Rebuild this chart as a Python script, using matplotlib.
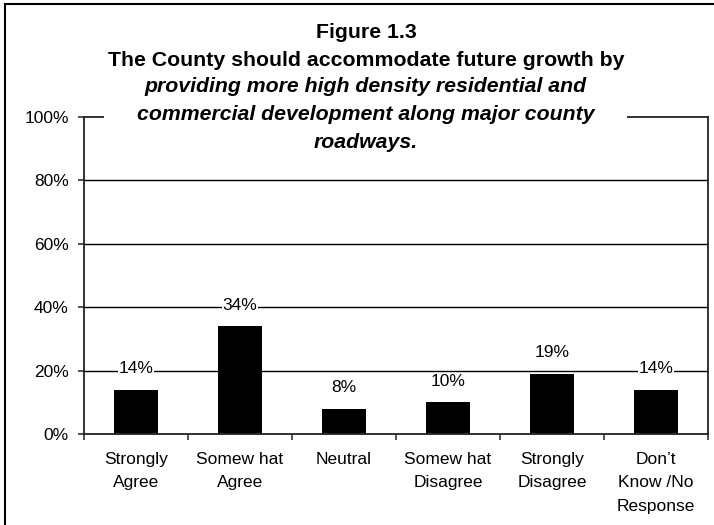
import numpy as np
import matplotlib.pyplot as plt
from matplotlib.patches import Rectangle
from matplotlib.lines import Line2D

plt.rcParams["font.family"] = ["Liberation Sans", "DejaVu Sans"]

# survey responses, share of respondents
categories = ["Strongly\nAgree", "Somew hat\nAgree", "Neutral",
              "Somew hat\nDisagree", "Strongly\nDisagree", "Don\u2019t\nKnow /No\nResponse"]
shares = [0.14, 0.34, 0.08, 0.10, 0.19, 0.14]
yticks = [0, 0.2, 0.4, 0.6, 0.8, 1.0]
ytick_labels = ["0%", "20%", "40%", "60%", "80%", "100%"]

title_lines = [
    ("Figure 1.3", "normal"),
    ("The County should accommodate future growth by", "normal"),
    ("providing more high density residential and", "italic"),
    ("commercial development along major county", "italic"),
    ("roadways.", "italic"),
]

W, H = 714, 525
fig = plt.figure(figsize=(W / 100, H / 100), dpi=100)
ax = fig.add_axes([84 / W, 1 - 434 / H, (708 - 84) / W, (434 - 117) / H])

x = np.arange(len(categories))
ax.bar(x, shares, width=0.42, color="black", zorder=2)

for xi, v in zip(x, shares):
    ax.annotate(f"{v * 100:.0f}%", (xi, v), xytext=(0, 15), textcoords="offset points",
                ha="center", va="center", fontsize=12.5, zorder=4,
                bbox=dict(boxstyle="square,pad=0.05", fc="white", ec="none"))

ax.set_xlim(-0.5, len(categories) - 0.5)
ax.set_ylim(0, 1.0)

# tick marks sit on the category boundaries, labels in the middle
ax.set_xticks(np.arange(-0.5, len(categories)), labels=[""] * (len(categories) + 1))
ax.set_xticks(x, labels=categories, minor=True)
ax.tick_params(axis="x", which="major", direction="out", length=4, width=1.2, color="#333333")
ax.tick_params(axis="x", which="minor", length=0, pad=13, labelsize=12.5)
for lbl in ax.get_xticklabels(minor=True):
    lbl.set_linespacing(1.7)
    lbl.set_verticalalignment("top")

ax.set_yticks(yticks, labels=ytick_labels)
ax.tick_params(axis="y", direction="out", length=4, width=1.2, pad=7, labelsize=12.5, color="#333333")

for yv in yticks[1:-1]:
    ax.axhline(yv, color="black", lw=1.0, zorder=1)

for side in ["left", "bottom", "right", "top"]:
    ax.spines[side].set_color("#222222")
    ax.spines[side].set_linewidth(1.3)

# white title box over the top frame line
fig.add_artist(Rectangle((104 / W, 1 - 150 / H), (627 - 104) / W, 135 / H,
                         transform=fig.transFigure, fc="white", ec="none", zorder=2))

title_y = [33, 60, 87, 115, 142]
for (txt, style), yp in zip(title_lines, title_y):
    fig.text(366 / W, 1 - yp / H, txt, ha="center", va="center", fontsize=15.3,
             fontweight="bold", fontstyle=style, zorder=3)

# outer frame (top and left edges)
fig.add_artist(Line2D([5 / W, 1], [1 - 4 / H, 1 - 4 / H], color="black", lw=1.5,
                      transform=fig.transFigure))
fig.add_artist(Line2D([5 / W, 5 / W], [0, 1 - 4 / H], color="black", lw=1.5,
                      transform=fig.transFigure))

fig.savefig("out.png", dpi=100, facecolor="white")
